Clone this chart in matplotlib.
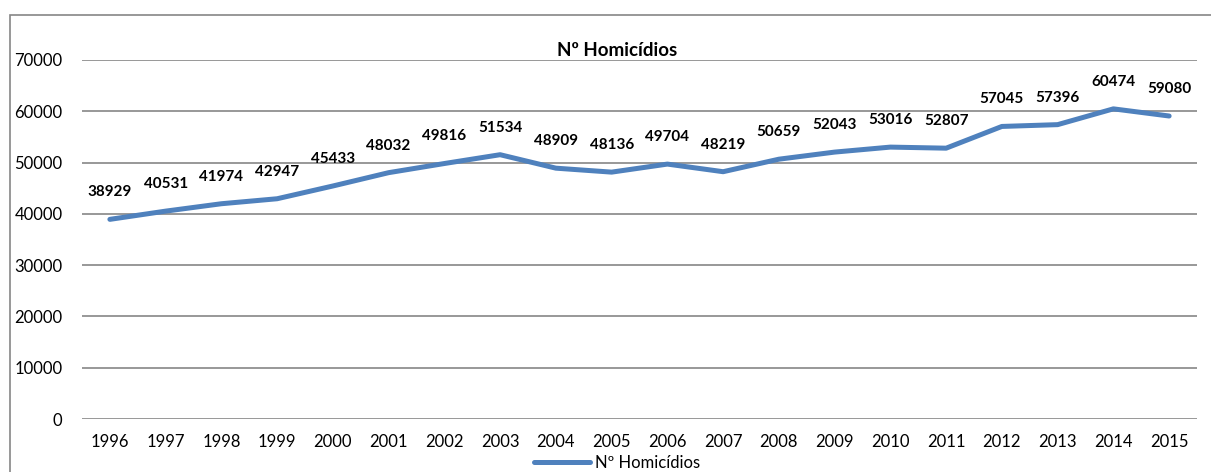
import matplotlib.pyplot as plt
from matplotlib.patches import Rectangle

# dados: numero de homicidios por ano
anos = ['1996', '1997', '1998', '1999', '2000', '2001', '2002', '2003', '2004', '2005',
        '2006', '2007', '2008', '2009', '2010', '2011', '2012', '2013', '2014', '2015']
homicidios = [38929, 40531, 41974, 42947, 45433, 48032, 49816, 51534, 48909, 48136,
              49704, 48219, 50659, 52043, 53016, 52807, 57045, 57396, 60474, 59080]
y_ticks = [0, 10000, 20000, 30000, 40000, 50000, 60000, 70000]

plt.rcParams['font.family'] = ['Lato', 'DejaVu Sans']

fig = plt.figure(figsize=(12.11, 4.72), dpi=100)
ax = fig.add_axes([82 / 1211, 1 - 419 / 472, (1197 - 82) / 1211, (419 - 60) / 472])

# moldura do grafico (estilo Excel)
fig.patches.append(Rectangle((10 / 1211, -0.1), 1.1, 1 - 15 / 472 + 0.1,
                             transform=fig.transFigure, fill=False,
                             edgecolor='#868686', linewidth=1.2))

x = list(range(len(anos)))
linha, = ax.plot(x, homicidios, color='#4F81BD', linewidth=3.6,
                 solid_capstyle='round', solid_joinstyle='round', label='Nº Homicídios')

for xi, v in zip(x, homicidios):
    ax.annotate(str(v), (xi, v), xytext=(0, 19.5), textcoords='offset points',
                ha='center', va='center', fontsize=11, fontweight='bold', color='black')

ax.set_xlim(-0.5, len(anos) - 0.5)
ax.set_ylim(0, 70000)
ax.set_yticks(y_ticks)
ax.set_xticks(x)
ax.set_xticklabels(anos)
ax.tick_params(axis='both', length=0, labelsize=12, colors='black')
ax.tick_params(axis='y', pad=14)
ax.tick_params(axis='x', pad=11)
ax.grid(axis='y', color='#868686', linewidth=1.2)
ax.set_axisbelow(True)
for s in ax.spines.values():
    s.set_visible(False)

fig.text(617 / 1211, 1 - 51 / 472, 'Nº Homicídios', ha='center', va='center',
         fontsize=13.5, fontweight='bold')

fig.legend(handles=[linha], loc='center', bbox_to_anchor=(617 / 1211, 1 - 463 / 472),
           frameon=False, fontsize=12, handlelength=3.4, handletextpad=0.3,
           borderpad=0)

fig.savefig('out.png', dpi=100)
